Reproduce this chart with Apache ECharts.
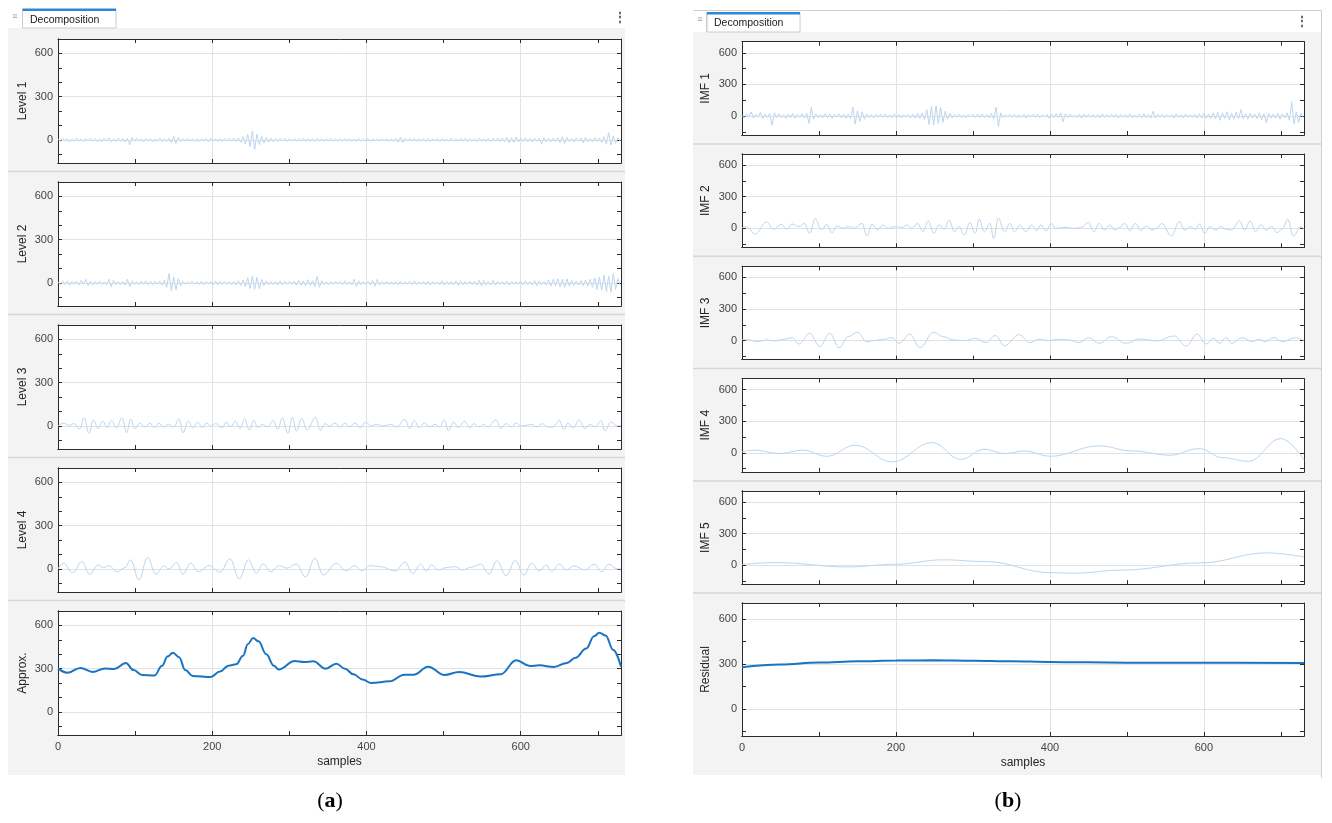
<!DOCTYPE html>
<html><head><meta charset="utf-8">
<script src="https://cdn.jsdelivr.net/npm/echarts@6/dist/echarts.min.js"></script>
<style>html,body{margin:0;padding:0;background:#fff}#c{width:1332px;height:823px}</style>
</head><body><div id="c"></div><script>
// ---------- data ----------
const xTickValues = [0,100,200,300,400,500,600,700];
const xLabelValues = [0,200,400,600];
const yLabelValues = [0,300,600];
const yTickLeft = [-100,0,100,200,300,400,500,600];
const yTickRight = [-150,0,150,300,450,600];
const leftNames = ['Level 1','Level 2','Level 3','Level 4','Approx.'];
const rightNames = ['IMF 1','IMF 2','IMF 3','IMF 4','IMF 5','Residual'];
const sampleStep = 3; // noisy detail series are read every 3 samples

const level1 = [5,-10,12,-6,9,-13,7,-9,14,-8,6,-12,10,-7,13,-9,8,-11,6,-10,
11,-8,14,-12,7,-9,12,-10,9,-14,10,-35,18,-9,11,-7,8,-12,10,-6,
9,-11,7,-8,12,-10,6,-9,11,-20,25,-24,18,-12,9,-7,10,-8,6,-9,
7,-10,8,-6,9,-11,12,-8,7,-9,6,-10,8,-7,11,-9,12,-10,14,-16,
22,-28,38,-45,62,-65,40,-32,25,-22,18,-14,10,-12,8,-9,11,-7,9,-10,
8,-7,9,-6,7,-8,10,-9,6,-7,8,-10,9,-6,7,-9,8,-7,10,-8,
6,-9,7,-8,9,-6,8,-7,6,-9,10,-8,7,-6,9,-10,8,-7,6,-8,
9,-7,8,-10,7,-9,12,-15,20,-18,10,-8,9,-7,6,-9,8,-6,7,-9,
10,-8,6,-7,9,-10,8,-6,7,-9,11,-8,6,-7,9,-8,10,-11,7,-9,
8,-10,12,-9,7,-11,9,-13,10,-8,12,-10,14,-12,18,-20,15,-18,20,-14,
12,-10,15,-12,9,-14,11,-9,13,-30,16,-12,10,-14,12,-9,15,-18,22,-25,
18,-12,10,-15,13,-9,14,-20,18,-12,10,-14,16,-11,13,-18,22,-30,50,-35,
28,-22,15,-8];

const level2 = [8,-12,15,-10,14,-16,11,-9,13,-15,18,-8,25,-18,12,-14,10,-9,13,-11,
8,-12,25,-25,20,-13,10,-12,9,-14,25,-24,14,-10,8,-12,11,-9,13,-10,
9,-11,12,-8,14,-15,20,-30,65,-55,40,-48,30,-20,12,-10,9,-8,11,-9,
8,-10,12,-11,9,-8,10,-12,14,-13,11,-9,12,-10,8,-11,9,-13,15,-18,
20,-25,35,-38,45,-45,38,-40,25,-18,14,-12,10,-11,9,-13,15,-14,11,-9,
12,-10,13,-15,18,-16,14,-20,22,-18,15,-25,45,-30,15,-10,8,-12,10,-9,
11,-8,10,-12,14,-10,9,-13,25,-24,15,-12,10,-9,11,-13,18,-22,25,-14,
10,-9,12,-10,8,-11,9,-13,12,-10,8,-9,11,-10,14,-12,9,-8,10,-11,
12,-14,10,-9,8,-12,15,-13,11,-10,9,-12,14,-18,16,-12,10,-9,11,-10,
12,-15,18,-20,16,-12,10,-14,18,-16,12,-10,9,-11,13,-15,12,-10,8,-9,
11,-13,15,-12,10,-14,16,-18,14,-12,10,-15,20,-22,25,-20,30,-28,25,-30,
28,-22,18,-15,12,-14,16,-18,20,-22,25,-30,35,-45,40,-50,55,-60,48,-65,
65,-45,30,-15];

const level3 = [[0,0],[7,20],[14,4],[21,16],[28,-22],[34,56],[40,-51],[46,42],[52,-18],[58,33],[64,-13],[69,38],[76,-13],[83,56],[89,-47],[94,47],[100,-18],[106,20],[113,-7],[119,20],[125,-11],[131,20],[137,-7],[143,11],[150,-7],[157,49],[162,-47],[169,33],[175,-13],[181,27],[187,-11],[193,20],[198,0],[205,16],[213,-13],[218,27],[224,-7],[230,33],[236,-18],[242,49],[248,-29],[254,38],[259,-11],[265,11],[272,-7],[279,38],[285,-24],[291,56],[298,-51],[304,60],[309,-36],[316,51],[323,-29],[334,60],[340,-29],[346,16],[352,-2],[359,20],[366,-7],[372,20],[378,-7],[385,20],[392,-13],[399,27],[406,0],[413,11],[420,0],[426,4],[432,11],[439,-7],[450,44],[456,-18],[462,38],[468,-13],[475,20],[482,-7],[489,11],[495,-7],[501,42],[506,-33],[513,27],[519,-11],[527,33],[534,-13],[539,16],[546,-7],[552,11],[557,-7],[568,42],[574,-18],[581,16],[588,-7],[594,20],[600,0],[607,4],[614,11],[621,-7],[628,16],[635,-7],[642,-7],[650,38],[656,-24],[661,20],[668,-13],[676,42],[683,-18],[690,11],[697,-7],[704,38],[709,-33],[717,27],[725,0],[730,0]];

const level4 = [[0,0],[7,40],[19,-26],[31,51],[41,-37],[52,28],[59,9],[66,23],[77,-19],[87,9],[94,63],[105,-77],[116,79],[127,-37],[137,21],[144,0],[154,44],[162,-37],[172,40],[182,-19],[196,23],[210,-23],[223,70],[235,-70],[247,63],[257,-30],[266,35],[276,-19],[287,23],[297,5],[309,35],[321,-56],[333,74],[344,-42],[361,40],[373,-14],[385,23],[394,-14],[404,23],[418,16],[437,-14],[450,47],[460,-33],[470,33],[478,-14],[484,28],[494,-7],[503,9],[515,16],[524,-7],[536,12],[548,33],[559,-35],[569,56],[581,-47],[593,58],[604,-42],[614,40],[624,-14],[633,28],[640,-19],[650,33],[659,-7],[669,21],[683,-7],[695,33],[705,-19],[714,33],[725,0],[730,0]];

const approx = [[0,302],[12,272],[29,305],[45,277],[61,302],[73,298],[88,339],[98,290],[109,256],[125,252],[135,320],[142,385],[149,411],[157,380],[165,290],[175,249],[198,242],[210,280],[221,321],[231,330],[240,390],[246,470],[253,512],[260,490],[270,400],[280,320],[286,295],[307,353],[319,346],[331,351],[347,300],[361,335],[372,300],[383,261],[395,225],[406,201],[430,212],[449,258],[461,258],[480,314],[501,256],[520,277],[548,245],[574,261],[594,358],[612,318],[624,323],[643,312],[660,340],[671,376],[685,440],[695,525],[702,549],[710,530],[720,430],[730,314]];

const imf1 = [5,-18,22,-12,40,-20,15,-10,35,-25,18,-14,25,-86,30,-15,20,-18,12,-22,
18,-15,25,-20,16,-12,22,-18,25,-70,83,-30,20,-15,12,-18,22,-14,18,-20,
15,-12,20,-16,14,-22,18,-25,83,-77,50,-50,40,-30,20,-15,12,-18,14,-10,
16,-12,18,-14,10,-16,20,-12,15,-18,12,-10,14,-16,18,-20,25,-22,30,-35,
60,-80,90,-86,96,-70,80,-60,45,-30,25,-18,15,-12,18,-14,10,-16,12,-10,
14,-12,18,-15,20,-16,14,-18,25,-30,83,-100,30,-15,12,-10,14,-12,16,-14,
10,-12,15,-18,14,-10,16,-12,18,-14,12,-10,15,-20,18,-16,22,-12,30,-55,
20,-15,18,-12,10,-14,16,-20,18,-12,15,-10,12,-16,14,-18,20,-15,12,-10,
14,-12,16,-18,14,-10,12,-15,18,-14,10,-12,16,-18,20,-15,12,-20,45,-20,
15,-12,14,-16,12,-10,15,-18,20,-14,12,-16,18,-12,10,-14,16,-18,22,-20,
25,-22,18,-25,30,-28,35,-40,30,-25,40,-35,25,-30,35,-28,60,-25,20,-30,
25,-20,18,-25,30,-35,20,-65,25,-20,18,-22,25,-30,20,-18,30,-40,135,-75,
40,-60,25,-15];

const imf2 = [[0,5],[6,16],[17,-54],[32,60],[41,-9],[51,38],[58,-9],[65,41],[74,16],[81,47],[88,-47],[95,92],[103,-16],[110,35],[117,-41],[123,22],[131,0],[138,16],[146,0],[156,47],[162,-70],[169,38],[176,-16],[183,32],[190,0],[199,16],[209,9],[214,32],[221,0],[228,47],[235,-32],[242,70],[249,-47],[256,32],[263,-9],[269,79],[276,-32],[282,16],[289,-63],[296,54],[303,-47],[308,85],[315,-32],[322,47],[327,-95],[333,95],[341,-32],[348,47],[354,-32],[361,32],[369,-32],[376,32],[383,-22],[388,32],[395,-22],[402,47],[407,0],[421,9],[431,0],[440,6],[450,57],[457,-32],[464,47],[471,-16],[478,32],[484,-16],[490,6],[497,47],[504,-22],[511,47],[518,-22],[525,22],[532,-16],[539,0],[545,47],[558,-73],[568,63],[575,-16],[582,16],[589,-9],[594,41],[601,-47],[608,16],[615,-16],[622,16],[629,-9],[636,-16],[646,70],[653,-16],[660,70],[667,-32],[674,32],[681,-16],[688,16],[695,-41],[702,-5],[709,85],[716,-73],[726,16],[730,-10]];

const imf3 = [[0,13],[10,6],[20,-10],[32,6],[43,-3],[55,13],[65,29],[74,-32],[88,70],[101,-57],[114,70],[126,-67],[138,38],[150,80],[162,-10],[171,0],[185,13],[195,29],[204,-26],[218,61],[231,-67],[249,80],[261,38],[275,6],[289,0],[303,22],[317,-19],[329,48],[341,-48],[360,57],[374,-19],[386,13],[398,0],[412,13],[424,6],[438,-19],[450,29],[464,-26],[480,38],[499,-26],[516,16],[539,-3],[561,45],[577,-51],[591,61],[603,-32],[613,22],[620,-26],[629,29],[636,-26],[650,29],[662,-10],[672,13],[679,-10],[691,29],[702,-10],[719,29],[730,0]];

const imf4 = [[0,10],[17,26],[48,-6],[79,26],[110,-32],[147,73],[195,-86],[247,99],[284,-61],[315,35],[341,-6],[367,19],[400,-32],[464,67],[506,19],[556,-22],[594,41],[624,-45],[658,-80],[700,137],[730,-64]];

const imf5 = [[0,6],[43,25],[138,-16],[199,9],[261,51],[317,35],[400,-70],[431,-76],[492,-47],[596,22],[681,117],[730,79]];

const residual = [[0,278],[50,295],[100,309],[150,317],[200,322],[250,324],[300,321],[350,317],[400,313],[450,310],[500,308],[600,307],[730,306]];

// ---------- styling ----------
const FONT = '"Liberation Sans", Arial, Helvetica, sans-serif';
const AXC = '#2b2b2b', GRIDC = '#e2e2e2', LBLC = '#444444';
const THIN = '#bcd6ef', THICK = '#1a74c2', PANEL = '#f3f3f3';

const stepPairs = vals => vals.map((v, i) => [i * sampleStep, v]);

const leftData = [stepPairs(level1), stepPairs(level2), level3, level4, approx];
const leftSmooth = [false, false, 0.4, 0.4, 0.4];
const rightData = [stepPairs(imf1), imf2, imf3, imf4, imf5, residual];
const rightSmooth = [false, 0.4, 0.4, 0.4, 0.4, 0.4];

const panels = [];
leftNames.forEach((nm, k) => panels.push({
  name: nm, grid: {left: 58, top: 39 + 143 * k, width: 563, height: 124},
  yMin: -160, yMax: 700, yTicks: yTickLeft, bottom: k === 4, data: leftData[k],
  smooth: leftSmooth[k], thick: k === 4, nameGap: 29
}));
rightNames.forEach((nm, k) => panels.push({
  name: nm,
  grid: k < 5 ? {left: 742, top: 41.7 + 112.3 * k, width: 562, height: 93.3}
              : {left: 742, top: 603, width: 562, height: 133},
  yMin: -180, yMax: 705, yTicks: yTickRight, bottom: k === 5, data: rightData[k],
  smooth: rightSmooth[k], thick: k === 5, nameGap: 30
}));

const grids = [], xAxes = [], yAxes = [], series = [];
const tickStyle = {show: true, inside: true, length: 4, lineStyle: {color: AXC, width: 1}};
const lineStyleAx = {show: true, onZero: false, lineStyle: {color: AXC, width: 1}};
panels.forEach((p, g) => {
  grids.push(Object.assign({show: true, backgroundColor: '#ffffff', borderWidth: 0, containLabel: false}, p.grid));
  // main bottom x axis: grid lines + labels
  xAxes.push({
    gridIndex: g, type: 'value', min: 0, max: 730, interval: 200, position: 'bottom',
    axisLine: lineStyleAx, axisTick: {show: false},
    axisLabel: {show: p.bottom, customValues: xLabelValues, margin: 6, color: LBLC, fontSize: 11, fontFamily: FONT},
    splitLine: {show: true, lineStyle: {color: GRIDC, width: 1}},
    name: p.bottom ? 'samples' : '', nameLocation: 'middle', nameGap: 21,
    nameTextStyle: {color: '#262626', fontSize: 12, fontFamily: FONT}
  });
  // tick-only axes, bottom and top
  ['bottom', 'top'].forEach(pos => xAxes.push({
    gridIndex: g, type: 'value', min: 0, max: 730, interval: 100, position: pos,
    axisLine: lineStyleAx, axisTick: Object.assign({customValues: xTickValues}, tickStyle),
    axisLabel: {show: false}, splitLine: {show: false}
  }));
  // main left y axis: grid lines + labels
  yAxes.push({
    gridIndex: g, type: 'value', min: p.yMin, max: p.yMax, minInterval: 300, maxInterval: 300, position: 'left',
    axisLine: lineStyleAx, axisTick: {show: false},
    axisLabel: {show: true, customValues: yLabelValues, margin: 5, color: LBLC, fontSize: 11, fontFamily: FONT},
    splitLine: {show: true, lineStyle: {color: GRIDC, width: 1}},
    name: p.name, nameLocation: 'middle', nameGap: p.nameGap, nameRotate: 90,
    nameTextStyle: {color: '#262626', fontSize: 12, fontFamily: FONT}
  });
  ['left', 'right'].forEach(pos => yAxes.push({
    gridIndex: g, type: 'value', min: p.yMin, max: p.yMax, minInterval: 300, maxInterval: 300, position: pos,
    axisLine: lineStyleAx, axisTick: Object.assign({customValues: p.yTicks}, tickStyle),
    axisLabel: {show: false}, splitLine: {show: false}
  }));
  series.push({
    type: 'line', xAxisIndex: 3 * g, yAxisIndex: 3 * g, data: p.data,
    showSymbol: false, symbol: 'none', smooth: p.smooth, smoothMonotone: 'x', silent: true, clip: true,
    lineStyle: {color: p.thick ? THICK : THIN, width: p.thick ? 2 : 1}, z: 3
  });
});

// ---------- frame decoration ----------
const gfx = [];
const rect = (x, y, w, h, fill, stroke) => gfx.push({type: 'rect', z: -20, silent: true,
  shape: {x, y, width: w, height: h}, style: {fill, stroke: stroke || null, lineWidth: stroke ? 1 : 0}});
const line = (x1, y1, x2, y2, c, w) => gfx.push({type: 'line', z: -15, silent: true,
  shape: {x1, y1, x2, y2}, style: {stroke: c, lineWidth: w || 1}});
const text = (t, x, y, font, fill, align) => gfx.push({type: 'text', z: 5, silent: true,
  style: {text: t, x, y, font, fill, align: align || 'left', verticalAlign: 'middle'}});

// left window
rect(8, 28, 617, 747, PANEL);
rect(22.5, 9.5, 93.5, 18.5, '#ffffff', '#cccccc');
rect(22.5, 8.5, 93.5, 2.5, '#2b87d8');
text('Decomposition', 30, 20, '10.5px ' + FONT, '#1a1a1a');
text('≡', 15, 17, '9px ' + FONT, '#a0a0a0', 'center');
text('⋮', 620, 18, 'bold 12px ' + FONT, '#555555', 'center');
[0, 1, 2, 3].forEach(k => line(8, 171.5 + 143 * k, 625, 171.5 + 143 * k, '#d6d6d6', 1.5));

// right window
line(693, 10.5, 1322, 10.5, '#d0d0d0', 1);
line(1321.5, 10.5, 1321.5, 778, '#d0d0d0', 1);
rect(693, 32, 628, 743, PANEL);
line(706.5, 12, 706.5, 32, '#cccccc', 1);
rect(707, 12.5, 93, 19.5, '#ffffff', '#cccccc');
rect(707, 12, 93, 2.5, '#2b87d8');
text('Decomposition', 714, 23, '10.5px ' + FONT, '#1a1a1a');
text('≡', 700, 20, '9px ' + FONT, '#a0a0a0', 'center');
text('⋮', 1302, 22, 'bold 12px ' + FONT, '#555555', 'center');
[144, 256.3, 368.6, 480.9, 593].forEach(y => line(693, y, 1321, y, '#d6d6d6', 1.5));

// captions
['a', 'b'].forEach((lab, i) => gfx.push({type: 'text', z: 5, silent: true,
  style: {text: '({b|' + lab + '})', x: i ? 1008 : 330, y: 801, align: 'center', verticalAlign: 'middle',
    fontSize: 22, fontFamily: '"Liberation Serif", "DejaVu Serif", serif', fill: '#000',
    rich: {b: {fontSize: 22, fontWeight: 'bold', fontFamily: '"Liberation Serif", "DejaVu Serif", serif', fill: '#000'}}}}));

const chart = echarts.init(document.getElementById('c'), null, {renderer: 'canvas'});
chart.setOption({
  animation: false,
  backgroundColor: '#ffffff',
  graphic: gfx,
  grid: grids, xAxis: xAxes, yAxis: yAxes, series: series
});
</script></body></html>
